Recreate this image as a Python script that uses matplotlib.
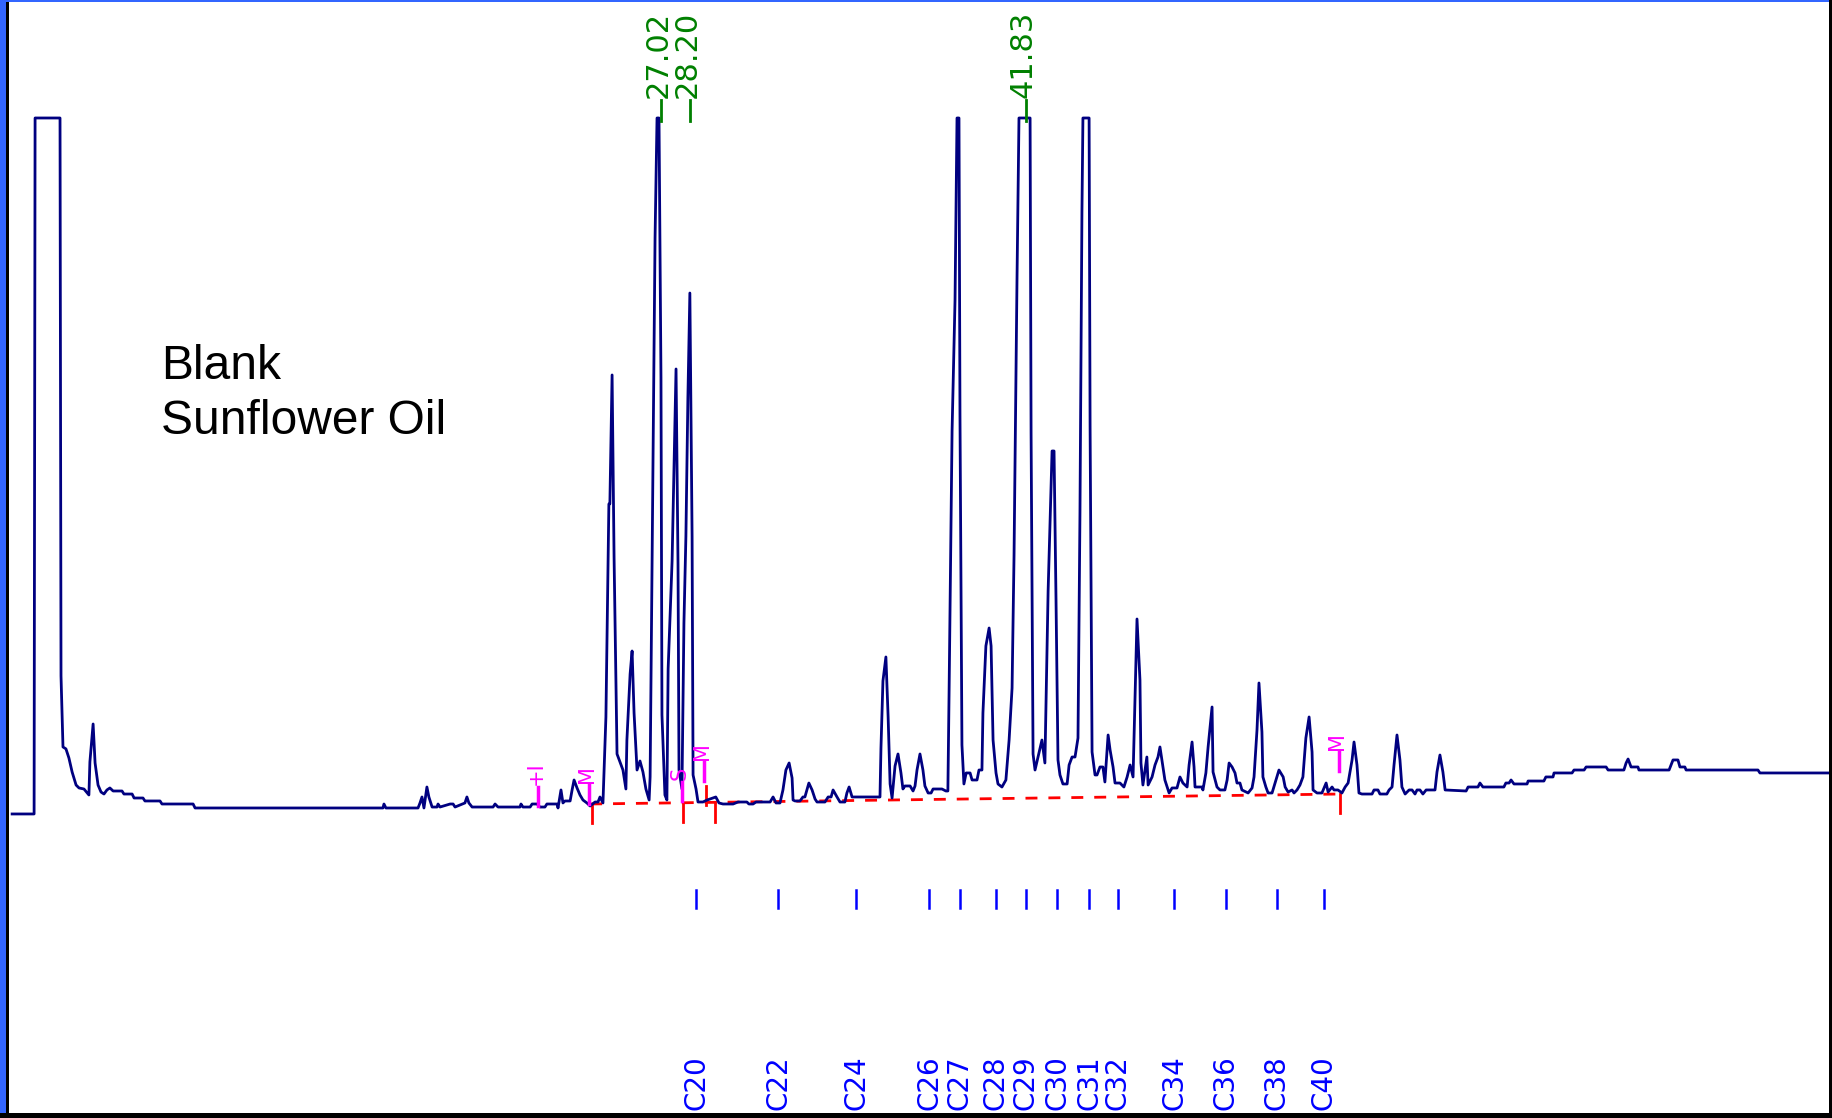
import matplotlib
matplotlib.use('Agg')
import matplotlib.pyplot as plt
from matplotlib.patches import Rectangle

plt.rcParams['lines.scale_dashes'] = False

# detector trace: retention time (min) and signal (% of full scale, clipped at 100)
time_min = [
    0.75, 1.64, 1.68, 2.69, 2.73, 2.81, 2.93, 3.05, 3.18, 3.34, 3.46, 3.66, 3.86, 3.90,
    4.03, 4.11, 4.23, 4.35, 4.47, 4.59, 4.71, 4.84, 5.20, 5.28, 5.61, 5.69, 6.05, 6.13,
    6.74, 6.82, 8.08, 8.16, 15.77, 15.81, 15.89, 17.19, 17.27, 17.35, 17.43, 17.55,
    17.63, 17.76, 17.96, 18.00, 18.08, 18.49, 18.61, 18.69, 19.09, 19.17, 19.25, 19.38,
    20.23, 20.31, 20.43, 21.32, 21.36, 21.44, 21.73, 21.81, 22.01, 22.13, 22.33, 22.41,
    22.82, 22.86, 22.98, 23.06, 23.14, 23.35, 23.43, 23.51, 23.63, 23.75, 23.87, 24.03,
    24.16, 24.36, 24.48, 24.56, 24.68, 24.80, 24.92, 24.96, 25.05, 25.13, 25.25, 25.37,
    25.49, 25.61, 25.65, 25.78, 25.86, 25.94, 26.06, 26.18, 26.30, 26.42, 26.55, 26.59,
    26.67, 26.79, 26.87, 26.95, 27.03, 27.07, 27.19, 27.27, 27.32, 27.48, 27.64, 27.72,
    27.76, 27.88, 27.96, 28.04, 28.12, 28.20, 28.29, 28.33, 28.45, 28.53, 28.73, 28.90,
    29.25, 29.38, 29.54, 29.95, 30.15, 30.51, 30.59, 30.76, 30.88, 31.45, 31.57, 31.69,
    31.85, 31.97, 32.09, 32.22, 32.34, 32.38, 32.46, 32.66, 32.78, 32.86, 33.02, 33.15,
    33.27, 33.35, 33.67, 33.80, 33.92, 34.00, 34.16, 34.28, 34.48, 34.56, 34.65, 34.77,
    35.90, 35.94, 36.02, 36.14, 36.23, 36.31, 36.39, 36.51, 36.63, 36.75, 36.83, 36.91,
    37.12, 37.24, 37.32, 37.40, 37.52, 37.64, 37.72, 37.85, 37.97, 38.05, 38.41, 38.57,
    38.65, 38.70, 38.82, 38.94, 39.02, 39.10, 39.14, 39.22, 39.30, 39.39, 39.55, 39.63,
    39.83, 39.91, 40.03, 40.07, 40.19, 40.32, 40.40, 40.48, 40.60, 40.68, 40.84, 41.00,
    41.13, 41.25, 41.33, 41.45, 41.53, 41.98, 42.02, 42.10, 42.18, 42.30, 42.46, 42.58,
    42.71, 42.87, 42.95, 43.03, 43.11, 43.19, 43.31, 43.48, 43.56, 43.68, 43.80, 43.92,
    44.00, 44.08, 44.12, 44.37, 44.41, 44.49, 44.61, 44.69, 44.81, 44.93, 45.01, 45.14,
    45.22, 45.34, 45.42, 45.62, 45.78, 45.91, 46.03, 46.15, 46.23, 46.31, 46.43, 46.47,
    46.55, 46.71, 46.76, 46.92, 47.04, 47.16, 47.24, 47.36, 47.44, 47.61, 47.73, 47.93,
    48.05, 48.17, 48.34, 48.42, 48.54, 48.62, 48.66, 48.94, 48.98, 49.10, 49.19, 49.35,
    49.39, 49.55, 49.67, 49.87, 49.96, 50.04, 50.16, 50.28, 50.36, 50.48, 50.56, 50.81,
    50.97, 51.05, 51.17, 51.25, 51.37, 51.41, 51.53, 51.62, 51.78, 51.90, 52.06, 52.23,
    52.31, 52.43, 52.59, 52.67, 52.79, 52.91, 53.03, 53.15, 53.28, 53.40, 53.44, 53.60,
    53.80, 53.97, 54.05, 54.21, 54.29, 54.45, 54.61, 54.74, 54.86, 55.02, 55.10, 55.22,
    55.30, 55.42, 55.83, 55.91, 56.07, 56.15, 56.43, 56.52, 56.64, 56.72, 56.84, 56.96,
    57.04, 57.17, 57.33, 57.45, 57.57, 57.65, 57.77, 57.89, 58.02, 58.38, 58.46, 58.58,
    58.70, 58.79, 59.64, 59.72, 60.12, 60.20, 60.32, 61.17, 61.25, 61.38, 61.46, 61.58,
    62.11, 62.15, 62.79, 62.87, 63.16, 63.20, 63.93, 64.01, 64.42, 64.50, 65.31, 65.39,
    66.03, 66.12, 66.20, 66.32, 66.60, 66.64, 67.86, 67.94, 68.02, 68.22, 68.30, 68.50,
    68.55, 71.46, 71.54, 74.34,
]
signal = [
    -1.16, -1.16, 100, 100, 18.90, 8.58, 8.30, 6.98, 4.94, 3.05, 2.62, 2.47, 1.60, 6.40,
    11.92, 6.25, 3.05, 2.03, 1.74, 2.33, 2.62, 2.18, 2.18, 1.74, 1.74, 1.16, 1.16, 0.73,
    0.73, 0.29, 0.29, -0.29, -0.29, 0.29, -0.29, -0.29, 0.44, 1.31, -0.29, 2.76,
    1.31, -0.15, -0.15, 0.29, -0.15, 0.29, 0.29, -0.15, 0.44, 1.31, 0.44, -0.15,
    -0.15, 0.29, -0.15, -0.15, 0.29, -0.15, -0.15, 0.29, 0.29, -0.15, -0.15, 0.29,
    0.29, -0.29, 2.33, 0.44, 0.73, 0.73, 2.33, 3.78, 2.62, 1.60, 0.87, 0.44,
    0.00, 0.58, 0.58, 1.31, 0.44, 12.94, 43.90, 43.90, 62.65, 36.19, 7.56, 6.40,
    5.23, 2.47, 9.59, 19.19, 22.53, 13.52, 5.23, 6.54, 4.94, 2.47, 0.87, 4.22,
    36.19, 82.56, 100, 100, 62.21, 13.23, 1.60, 0.87, 19.91, 35.61, 63.52, 35.17,
    5.23, 2.47, 26.60, 39.24, 59.30, 74.56, 39.24, 4.51, 2.47, 0.58, 0.58, 0.87,
    1.31, 0.44, 0.29, 0.29, 0.58, 0.58, 0.29, 0.29, 0.58, 0.58, 1.31, 0.44,
    0.44, 2.33, 5.23, 6.25, 4.07, 0.87, 0.73, 0.73, 1.31, 1.31, 3.34, 2.33,
    1.02, 0.58, 0.58, 1.31, 1.31, 2.33, 1.31, 0.58, 0.58, 1.89, 2.76, 1.31,
    1.31, 8.43, 18.17, 21.66, 12.94, 3.20, 1.16, 5.81, 7.56, 4.80, 2.47, 2.91,
    2.91, 2.18, 2.91, 5.23, 7.56, 5.23, 2.91, 1.89, 1.89, 2.47, 2.47, 2.18,
    2.18, 16.86, 54.51, 73.55, 100, 100, 56.98, 8.87, 3.20, 4.80, 4.80, 3.78,
    3.78, 5.23, 5.23, 13.52, 23.26, 25.87, 23.26, 9.59, 4.80, 3.20, 2.76, 3.78,
    9.59, 17.15, 36.48, 76.60, 100, 100, 54.22, 7.56, 5.23, 7.12, 9.59, 6.25,
    31.25, 51.60, 51.60, 29.94, 6.69, 4.51, 3.20, 3.20, 5.96, 7.12, 7.12, 9.88,
    42.59, 86.34, 100, 100, 55.23, 7.85, 4.51, 4.51, 5.67, 5.67, 3.49, 10.32,
    8.14, 5.67, 3.34, 3.34, 2.76, 4.22, 5.96, 4.22, 15.41, 27.18, 18.31, 6.25,
    3.05, 7.12, 3.05, 4.22, 5.96, 7.12, 8.58, 5.67, 3.78, 1.89, 2.62, 2.62,
    4.22, 3.34, 2.76, 5.96, 9.30, 5.67, 2.76, 2.76, 2.33, 4.80, 8.58, 14.39,
    4.94, 2.76, 2.33, 2.33, 3.78, 6.25, 5.67, 4.80, 3.34, 3.34, 2.33, 1.89,
    2.62, 4.22, 11.05, 17.88, 10.76, 4.22, 2.76, 1.89, 1.89, 3.34, 5.23, 4.22,
    2.76, 2.03, 2.33, 1.89, 2.33, 3.05, 4.22, 9.88, 12.94, 7.85, 2.33, 1.89,
    1.89, 3.34, 2.03, 2.76, 2.33, 2.33, 1.89, 2.76, 3.34, 6.69, 9.30, 5.96,
    1.89, 1.74, 1.74, 2.33, 2.33, 1.74, 1.74, 2.33, 2.76, 5.96, 10.32, 6.69,
    2.76, 1.74, 2.33, 2.33, 1.74, 2.33, 2.33, 1.74, 2.33, 2.33, 4.94, 7.41,
    4.94, 2.33, 2.18, 2.76, 2.76, 3.34, 2.76, 2.76, 3.34, 3.34, 3.78, 3.20,
    3.20, 3.63, 3.63, 4.22, 4.22, 4.80, 4.80, 5.23, 5.23, 5.67, 5.67, 5.23,
    5.23, 6.25, 6.83, 5.67, 5.67, 5.23, 5.23, 5.96, 6.69, 6.69, 5.67, 5.67,
    5.23, 5.23, 4.80, 4.80,
]

# named peaks with retention times
peak_labels = ['27.02', '28.20', '41.83']
peak_times = [27.02, 28.20, 41.83]

# n-alkane reference markers
marker_names = ['C20', 'C22', 'C24', 'C26', 'C27', 'C28', 'C29', 'C30', 'C31', 'C32',
                'C34', 'C36', 'C38', 'C40']
marker_times = [28.45, 31.77, 34.93, 37.89, 39.14, 40.58, 41.81, 43.07, 44.37, 45.54,
                47.81, 49.91, 51.98, 53.88]

# integration baseline and its start/stop ticks
baseline_t = [24.16, 54.53]
baseline_s = [0.29, 1.74]
tick_times = [24.24, 27.92, 29.22, 54.53]

# timed events: label, time, bottom of label
event_labels = ['+I', 'M', 'S', 'M', 'M']
event_times = [21.97, 24.03, 27.80, 28.70, 54.40]
event_tops = [3.05, 3.34, 3.78, 6.69, 8.14]

NAVY = '#000080'
RED = '#ff0000'
MAGENTA = '#ff00ff'
GREEN = '#008000'
BLUE = '#0000ff'

fig = plt.figure(figsize=(18.32, 11.18), dpi=100)
ax = fig.add_axes([0, 0, 1, 1])
ax.set_xlim(0.259, 74.459)
ax.set_ylim(-45.35, 117.15)
ax.axis('off')

# integration baseline (dashed) and drop ticks
ax.plot(baseline_t, baseline_s, color=RED, lw=2, dashes=(8.6, 7.9), zorder=2)
for t in tick_times:
    b = baseline_s[0] + (baseline_s[1] - baseline_s[0]) * (t - baseline_t[0]) / (baseline_t[1] - baseline_t[0])
    ax.plot([t, t], [b, b - 2.8], color=RED, lw=2, zorder=2)
ax.plot([28.85, 28.85], [2.91, 0.15], color=RED, lw=2, zorder=2)

# chromatogram
ax.plot(time_min, signal, color=NAVY, lw=2.0, zorder=3)

# timed events
for lab, t, top in zip(event_labels, event_times, event_tops):
    ax.text(t, top, lab, rotation=90, color=MAGENTA, fontsize=15, ha='center', va='bottom',
            zorder=4)
    ax.plot([t + 0.08, t + 0.08], [top - 0.3, top - 3.0], color=MAGENTA, lw=2.5, zorder=4)

# peak retention time labels
for lab, t in zip(peak_labels, peak_times):
    ax.plot([t, t], [99.6, 102.6], color=GREEN, lw=2, zorder=4)
    ax.text(t - 0.12, 102.9, lab, rotation=90, color=GREEN, fontsize=22, ha='center',
            va='bottom', zorder=4)

# reference markers
for lab, t in zip(marker_names, marker_times):
    ax.plot([t, t], [-12.2, -14.8], color=BLUE, lw=1.8)
    ax.text(t, -44.2, lab, rotation=90, color=BLUE, fontsize=20, ha='center', va='bottom')

# sample description
ax.text(6.78, 62.1, 'Blank', fontsize=34.5, family='Liberation Sans',
        ha='left', va='baseline')
ax.text(6.78, 54.0, 'Sunflower Oil', fontsize=34.5, family='Liberation Sans',
        ha='left', va='baseline')

# window frame
W, H = 1832.0, 1118.0
frame = [
    (0, 0, 6 / W, 1, '#3366ff'),
    (6 / W, 0, 2.7 / W, 1, 'black'),
    (0, 1 - 2 / H, 1, 2 / H, '#3366ff'),
    (1 - 3 / W, 0, 3 / W, 1, 'black'),
    (0, 0, 1, 5 / H, 'black'),
]
for x, y, w, h, c in frame:
    fig.add_artist(Rectangle((x, y), w, h, transform=fig.transFigure, color=c, lw=0))

fig.savefig('out.png', dpi=100)
